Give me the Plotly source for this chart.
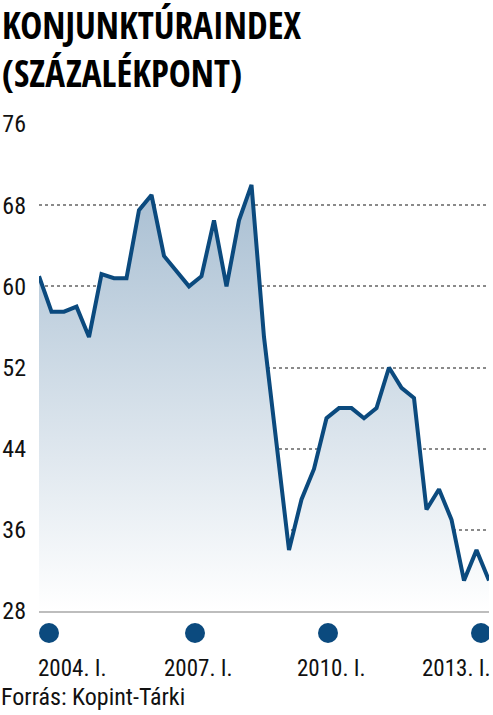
import plotly.graph_objects as go

# Quarterly index values, 2004 Q1 .. 2013 Q1 (percentage points)
years = list(range(2004, 2014))
roman = ["I.", "II.", "III.", "IV."]
quarters = [f"{y}. {q}" for y in years for q in roman][:37]
values = [61, 57.5, 57.5, 58, 55, 61.2, 60.8, 60.8, 67.5, 69,
          63, 61.5, 60, 61, 66.5, 60, 66.5, 70,
          55, 44.5, 34, 39, 42, 47, 48, 48, 47, 48, 52, 50, 49,
          38, 40, 37, 31, 34, 31]
tick_labels = ["2004. I.", "2007. I.", "2010. I.", "2013. I."]
tick_index = [quarters.index(t) for t in tick_labels]
y_ticks = [28, 36, 44, 52, 60, 68, 76]

FONT = "Roboto Condensed, Archivo Narrow, DejaVu Sans Condensed, sans-serif"
TFONT = "Open Sans Condensed, Roboto Condensed, sans-serif"
BLUE = "#0b4a7e"

x = list(range(len(values)))

fig = go.Figure()
fig.add_trace(go.Scatter(
    x=x, y=values, mode="lines",
    line=dict(color=BLUE, width=4, shape="linear"),
    fill="tozeroy",
    fillgradient=dict(type="vertical",
                      colorscale=[[0, "rgba(255,255,255,1)"], [1, "#a6bdd1"]],
                      start=28, stop=71),
    hoverinfo="skip", showlegend=False,
))

shapes = []
dot_shift = [10, 6, -11, -8]
for i, xi in enumerate(tick_index):
    shapes.append(dict(type="circle", xref="x", yref="paper",
                       xsizemode="pixel", ysizemode="pixel",
                       xanchor=xi, yanchor=0,
                       x0=dot_shift[i] - 10, x1=dot_shift[i] + 10,
                       y0=-12, y1=-32,
                       fillcolor=BLUE, line=dict(width=0)))

annotations = []
for i, (xi, lab) in enumerate(zip(tick_index, tick_labels)):
    if i == 0:
        anchor, shift = "left", -3
    elif i == len(tick_index) - 1:
        anchor, shift = "right", 4
    else:
        anchor, shift = "center", dot_shift[i] + 3
    annotations.append(dict(x=xi, y=0, xref="x", yref="paper", text=lab,
                            showarrow=False, xanchor=anchor, yanchor="middle",
                            xshift=shift, yshift=-57,
                            font=dict(family=FONT, size=23, color="#111")))

annotations.append(dict(x=0, y=0, xref="paper", yref="paper",
                        text="Forrás: Kopint-Tárki", showarrow=False,
                        xanchor="left", yanchor="middle", xshift=-40, yshift=-86,
                        font=dict(family=FONT, size=24, color="#111")))
annotations.append(dict(x=0, y=1, xref="paper", yref="paper",
                        text="<b>KONJUNKTÚRAINDEX</b>", showarrow=False,
                        xanchor="left", yanchor="middle", xshift=-39, yshift=100,
                        font=dict(family=TFONT, size=37, color="#000")))
annotations.append(dict(x=0, y=1, xref="paper", yref="paper",
                        text="<b>(SZÁZALÉKPONT)</b>", showarrow=False,
                        xanchor="left", yanchor="middle", xshift=-39, yshift=52,
                        font=dict(family=TFONT, size=37, color="#000")))

fig.update_layout(
    width=493, height=715,
    margin=dict(l=39, r=4, t=124, b=104),
    paper_bgcolor="white", plot_bgcolor="white",
    shapes=shapes, annotations=annotations,
    xaxis=dict(range=[0, len(values) - 1], showgrid=False, zeroline=False,
               showticklabels=False, ticks="", showline=True, automargin=False,
               linecolor="#bdbdbd", linewidth=2, mirror=False),
    yaxis=dict(range=[28, 76], tickvals=y_ticks, showgrid=True, automargin=False,
               gridcolor="#8a8a8a", gridwidth=1.5, griddash="dot",
               zeroline=False, ticks="", ticklabelstandoff=12,
               tickfont=dict(family=FONT, size=24, color="#111")),
)

fig.write_html("out.html", config={"displayModeBar": False},
               post_script="document.body.style.margin='0';document.body.style.overflow='hidden';")
